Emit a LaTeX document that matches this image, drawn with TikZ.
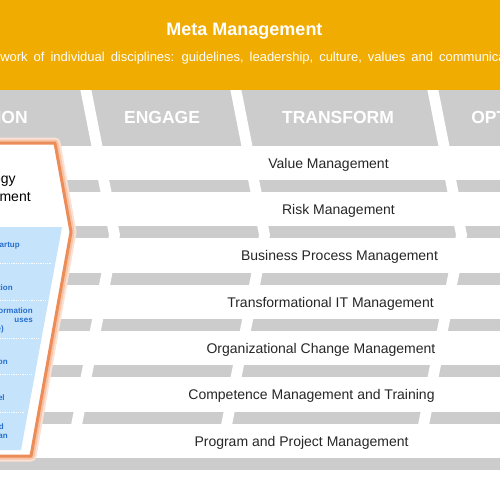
\documentclass[tikz,border=0pt]{standalone}
\usepackage{fontspec}
\setmainfont{Liberation Sans}
\definecolor{metaorange}{RGB}{240,172,0}
\definecolor{bargray}{RGB}{204,204,204}
\definecolor{panelorange}{RGB}{236,140,88}
\definecolor{glow}{RGB}{246,196,166}
\definecolor{itemfill}{RGB}{197,228,252}
\definecolor{itemblue}{RGB}{38,110,205}
\begin{document}
\begin{tikzpicture}[x=1pt,y=-1pt,line width=.6pt,
hdr/.style={text=white,inner sep=0pt,anchor=base,font=\fontsize{17.5}{20}\selectfont\bfseries},
discipline/.style={text=black!85,inner sep=0pt,anchor=base,font=\fontsize{14}{16}\selectfont},
item/.style={text=itemblue,inner sep=0pt,anchor=base east,font=\fontsize{8}{9}\selectfont\bfseries}]
\useasboundingbox (0,0) rectangle (500,500);
\clip (0,0) rectangle (500,500);
\fill[bargray] (0,90) rectangle (500,146);
\foreach \k in {0,...,6}
  \fill[bargray] (0,180+46.3*\k) rectangle (500,192+46.3*\k);
\foreach \gx in {80,230,427}
  \fill[white] (\gx,88) -- (\gx+29,235) -- (\gx-14,450) -- (\gx-3,450) -- (\gx+40,235) -- (\gx+11,88) -- cycle;
\fill[metaorange] (0,0) rectangle (500,90);
\node[hdr,font=\fontsize{18}{20}\selectfont\bfseries] (meta) at (244.5,36) {Meta Management};
\node[text=white,inner sep=0pt,anchor=base west,font=\fontsize{13}{15}\selectfont] (framework) at (0,62)
  {\spaceskip=6pt work of individual disciplines: guidelines, leadership, culture, values and communica};
\node[hdr,anchor=base east] (ion) at (28,123) {ION};
\node[hdr] (engage) at (162,123) {ENGAGE};
\node[hdr] (transform) at (338,123) {TRANSFORM};
\node[hdr,anchor=base west] (opt) at (471,123) {OPT};
\node[discipline] (value) at (328.5,168.3) {Value Management};
\node[discipline] (risk) at (338.5,214.6) {Risk Management};
\node[discipline] (bpm) at (339.5,260.9) {Business Process Management};
\node[discipline] (tit) at (330.5,307.2) {Transformational IT Management};
\node[discipline] (ocm) at (321,353.5) {Organizational Change Management};
\node[discipline] (cmt) at (311.5,399.8) {Competence Management and Training};
\node[discipline] (ppm) at (301.5,446.1) {Program and Project Management};
\coordinate (ptl) at (-10,143);
\coordinate (ptr) at (55,143);
\coordinate (pk) at (71,232);
\coordinate (pbr) at (31,456);
\coordinate (pbl) at (-10,456);
\draw[glow!50,line width=11,line join=round] (ptl) -- (ptr) -- (pk) -- (pbr) -- (pbl);
\draw[glow,line width=7,line join=round] (ptl) -- (ptr) -- (pk) -- (pbr) -- (pbl);
\fill[white] (ptl) -- (ptr) -- (pk) -- (pbr) -- (pbl) -- cycle;
\draw[panelorange,line width=3,line join=round] (ptl) -- (ptr) -- (pk) -- (pbr) -- (pbl);
\fill[itemfill] (-10,227) -- (62,227) -- (21,450) -- (-10,450) -- cycle;
\foreach \y/\xe in {263/52,300/45.5,338/38.5,374/32,412/25}
  \draw[white,densely dotted,line width=.8] (0,\y) -- (\xe,\y);
\node[discipline,text=black,anchor=base east] (strat1) at (16,183) {egy};
\node[discipline,text=black,anchor=base east] (strat2) at (31,201) {ement};
\node[item] (startup) at (20,247) {artup};
\node[item] (tion) at (13,290) {tion};
\node[item] (info1) at (33,313) {ormation};
\node[item] (info2) at (33,322.5) {uses};
\node[item] (info3) at (4,331.5) {e)};
\node[item] (on) at (8,364) {on};
\node[item] (el) at (5,400) {el};
\node[item] (d) at (4,429) {d};
\node[item] (an) at (8,438.5) {an};
\end{tikzpicture}
\end{document}
